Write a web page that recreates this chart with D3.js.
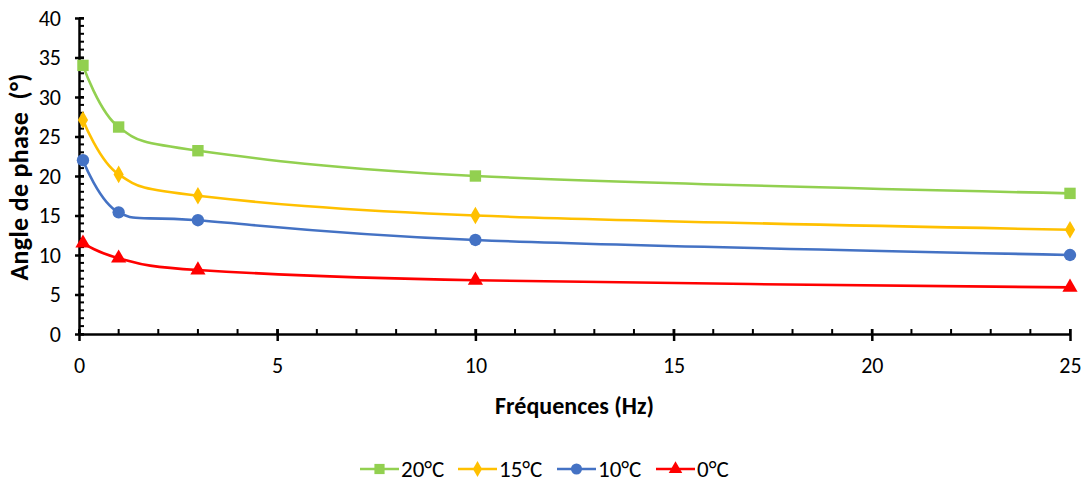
<!DOCTYPE html>
<html><head><meta charset="utf-8">
<script src="https://cdn.jsdelivr.net/npm/d3@7"></script>
<style>body{margin:0;background:#fff;} svg{display:block;font-family:Carlito,Lato,"Liberation Sans",sans-serif;}</style>
</head><body>
<svg id="c" width="1089" height="488"></svg>
<script>
const frequencies = [0.1, 1, 3, 10, 25];
const series20 = [34.0, 26.2, 23.2, 20.0, 17.8];
const series15 = [27.1, 20.2, 17.5, 15.0, 13.2];
const series10 = [22.0, 15.4, 14.4, 11.9, 10.0];
const series0 = [11.5, 9.6, 8.1, 6.8, 5.9];
const seriesNames = ["20°C", "15°C", "10°C", "0°C"];
const xTicks = [0, 5, 10, 15, 20, 25];
const yTicks = [0, 5, 10, 15, 20, 25, 30, 35, 40];

const seriesList = [
  {name: seriesNames[0], values: series20, color: "#92D050", symbol: d3.symbolSquare, size: 130},
  {name: seriesNames[1], values: series15, color: "#FFC000", symbol: d3.symbolDiamond, size: 90},
  {name: seriesNames[2], values: series10, color: "#4472C4", symbol: d3.symbolCircle, size: 120},
  {name: seriesNames[3], values: series0, color: "#FF0000", symbol: d3.symbolTriangle, size: 100}
];

const svg = d3.select("#c");
const L = 79, R = 1070, T = 18, B = 334;
const x = d3.scaleLinear().domain([0, 25]).range([L, R]);
const y = d3.scaleLinear().domain([0, 40]).range([B, T]);

// minor ticks
const g = svg.append("g");
g.selectAll(".ymin").data(d3.range(0, 41, 1)).join("line")
  .attr("x1", L).attr("x2", L + 5).attr("y1", d => y(d)).attr("y2", d => y(d))
  .attr("stroke", "#000").attr("stroke-width", 2);
g.selectAll(".xmin").data(d3.range(0, 26, 1)).join("line")
  .attr("x1", d => x(d)).attr("x2", d => x(d)).attr("y1", B).attr("y2", B - 5)
  .attr("stroke", "#000").attr("stroke-width", 2);

// axes
const yAxis = d3.axisLeft(y).tickValues(yTicks).tickSize(4).tickSizeOuter(0).tickPadding(14);
const xAxis = d3.axisBottom(x).tickValues(xTicks).tickSize(7).tickSizeOuter(0).tickPadding(16);
const ya = svg.append("g").attr("transform", `translate(${L},0)`).call(yAxis);
const xa = svg.append("g").attr("transform", `translate(0,${B})`).call(xAxis);
[ya, xa].forEach(a => {
  a.select(".domain").attr("stroke", "#000").attr("stroke-width", 2.5);
  a.selectAll(".tick line").attr("stroke", "#000").attr("stroke-width", 2.5);
  a.selectAll(".tick text").attr("fill", "#000").attr("font-size", 22).attr("font-family", "Carlito,Lato,sans-serif");
});
ya.selectAll(".tick line").attr("x2", -4).attr("x1", 5);
xa.selectAll(".tick line").attr("y2", 7).attr("y1", -5);
ya.selectAll(".tick text").attr("dy", "0.33em");
xa.selectAll(".tick text").attr("dy", "0.71em");

// lines
const line = d3.line().x((d, i) => x(frequencies[i])).y(d => y(d)).curve(d3.curveCardinal.tension(0));
seriesList.forEach(s => {
  svg.append("path").datum(s.values).attr("d", line)
    .attr("fill", "none").attr("stroke", s.color).attr("stroke-width", 2.6);
  svg.selectAll(null).data(s.values).join("path")
    .attr("d", d3.symbol(s.symbol, s.size))
    .attr("transform", (d, i) => `translate(${x(frequencies[i])},${y(d)})`)
    .attr("fill", s.color);
});

// titles
svg.append("text").attr("x", (L + R) / 2).attr("y", 414).attr("text-anchor", "middle")
  .attr("font-size", 24).attr("font-weight", "bold").text("Fréquences (Hz)");
svg.append("text").attr("transform", "translate(28,177) rotate(-90)").attr("text-anchor", "middle")
  .attr("font-size", 26).attr("font-weight", "bold").attr("letter-spacing", 0.3)
  .style("white-space", "pre").text("Angle de phase  (°)");

// legend
const legX = [360, 458, 557, 656];
seriesList.forEach((s, i) => {
  const lg = svg.append("g").attr("transform", `translate(${legX[i]},469)`);
  lg.append("line").attr("x1", 0).attr("x2", 39).attr("stroke", s.color).attr("stroke-width", 2.6);
  lg.append("path").attr("d", d3.symbol(s.symbol, s.size * 0.8)).attr("transform", "translate(19.5,0)").attr("fill", s.color);
  lg.append("text").attr("x", 41).attr("dy", "0.33em").attr("font-size", 23).attr("fill", "#000").text(s.name);
});
</script>
</body></html>
